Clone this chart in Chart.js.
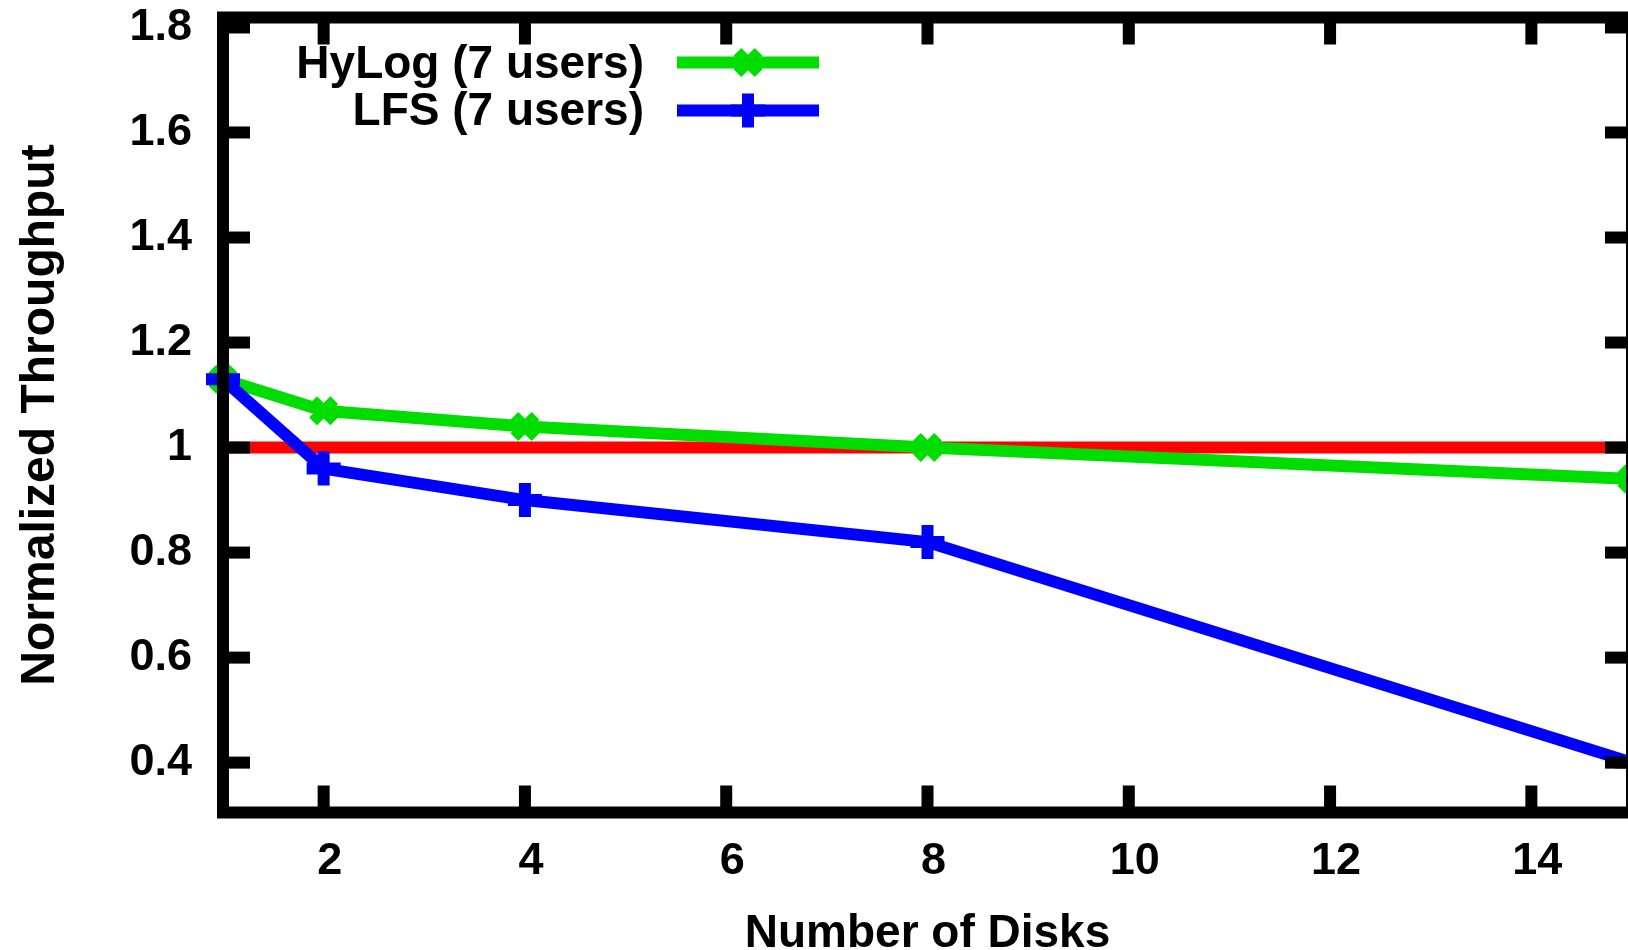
<!DOCTYPE html>
<html>
<head>
<meta charset="utf-8">
<script src="https://cdn.jsdelivr.net/npm/chart.js@4/dist/chart.umd.min.js"></script>
<style>
  html, body { margin: 0; padding: 0; background: #fff; overflow: hidden; }
  #wrap { width: 1660px; height: 950px; }
</style>
</head>
<body>
<div id="wrap"><canvas id="c" width="1660" height="950"></canvas></div>
<script>
// ---- data ----
const diskCounts = [1, 2, 4, 8, 15];
const hylogValues = [1.13, 1.07, 1.04, 1.0, 0.94];
const lfsValues = [1.13, 0.96, 0.90, 0.82, 0.40];
const baselineX = [1, 15];
const baselineValues = [1, 1];
const xTickValues = [2, 4, 6, 8, 10, 12, 14];
const yTickValues = [0.4, 0.6, 0.8, 1.0, 1.2, 1.4, 1.6, 1.8];
const seriesLabels = ['HyLog (7 users)', 'LFS (7 users)'];
const xTitle = 'Number of Disks';
const yTitle = 'Normalized Throughput';

const FONT = "'Liberation Sans', Arial, Helvetica, sans-serif";
const GREEN = 'rgb(0,221,0)';
const BLUE = 'rgb(0,0,255)';
const RED = 'rgb(255,0,0)';

function pts(xs, ys) { return xs.map((x, i) => ({ x: x, y: ys[i] })); }

function drawMarker(ctx, style, r, bw, color, x, y) {
  ctx.save();
  ctx.strokeStyle = color;
  ctx.lineWidth = bw;
  ctx.lineCap = 'butt';
  ctx.beginPath();
  if (style === 'cross') {
    ctx.moveTo(x, y - r); ctx.lineTo(x, y + r);
    ctx.moveTo(x - r, y); ctx.lineTo(x + r, y);
  } else {
    const o = r * Math.SQRT1_2;
    ctx.moveTo(x - o, y - o); ctx.lineTo(x + o, y + o);
    ctx.moveTo(x - o, y + o); ctx.lineTo(x + o, y - o);
  }
  ctx.stroke();
  ctx.restore();
}

const framePlugin = {
  id: 'frame',
  afterDatasetsDraw(chart) {
    const ctx = chart.ctx;
    const a = chart.chartArea;
    const xs = chart.scales.x, ys = chart.scales.y;
    ctx.save();
    ctx.fillStyle = '#000';
    const tl = 27, tw = 12;
    yTickValues.forEach(v => {
      const py = ys.getPixelForValue(v);
      ctx.fillRect(a.left, py - tw / 2, tl, tw);
      ctx.fillRect(a.right - tl, py - tw / 2, tl, tw);
    });
    xTickValues.forEach(v => {
      const px = xs.getPixelForValue(v);
      ctx.fillRect(px - tw / 2, a.bottom - tl, tw, tl);
      ctx.fillRect(px - tw / 2, a.top, tw, tl);
    });
    ctx.strokeStyle = '#000';
    ctx.lineWidth = 12;
    ctx.lineJoin = 'miter';
    ctx.strokeRect(a.left, a.top, a.right - a.left, a.bottom - a.top);
    ctx.restore();
  },
  afterDraw(chart) {
    const ctx = chart.ctx;
    const rows = [
      { ds: chart.data.datasets[0], y: 62.5, base: 78 },
      { ds: chart.data.datasets[1], y: 110.5, base: 124.5 }
    ];
    ctx.save();
    rows.forEach(r => {
      ctx.font = 'bold 46px ' + FONT;
      ctx.fillStyle = '#000';
      ctx.textAlign = 'right';
      ctx.textBaseline = 'alphabetic';
      ctx.fillText(r.ds.label, 644, r.base);
      ctx.strokeStyle = r.ds.borderColor;
      ctx.lineWidth = r.ds.borderWidth;
      ctx.lineCap = 'butt';
      ctx.beginPath();
      ctx.moveTo(677, r.y);
      ctx.lineTo(819, r.y);
      ctx.stroke();
      drawMarker(ctx, r.ds.pointStyle, r.ds.pointRadius, r.ds.pointBorderWidth, r.ds.borderColor, 748, r.y);
    });
    ctx.restore();
  }
};

new Chart(document.getElementById('c'), {
  type: 'scatter',
  data: {
    datasets: [
      {
        label: seriesLabels[0],
        data: pts(diskCounts, hylogValues),
        showLine: true,
        borderColor: GREEN,
        backgroundColor: GREEN,
        borderWidth: 12,
        pointStyle: 'crossRot',
        pointRadius: 15,
        pointBorderWidth: 11,
        pointBorderColor: GREEN,
        pointBackgroundColor: GREEN,
        pointHoverRadius: 15,
        clip: false,
        order: 2
      },
      {
        label: seriesLabels[1],
        data: pts(diskCounts, lfsValues),
        showLine: true,
        borderColor: BLUE,
        backgroundColor: BLUE,
        borderWidth: 12,
        pointStyle: 'cross',
        pointRadius: 17,
        pointBorderWidth: 12,
        pointBorderColor: BLUE,
        pointBackgroundColor: BLUE,
        pointHoverRadius: 17,
        clip: false,
        order: 1
      },
      {
        label: 'baseline',
        data: pts(baselineX, baselineValues),
        showLine: true,
        borderColor: RED,
        borderWidth: 12,
        pointRadius: 0,
        pointHoverRadius: 0,
        clip: false,
        order: 3
      }
    ]
  },
  options: {
    responsive: false,
    animation: false,
    devicePixelRatio: 1,
    layout: { autoPadding: false, padding: { left: 0, top: 17.5, right: 28, bottom: 0 } },
    plugins: {
      legend: { display: false },
      tooltip: { enabled: false }
    },
    elements: { line: { tension: 0, borderJoinStyle: 'miter' } },
    scales: {
      x: {
        type: 'linear',
        min: 1,
        max: 15,
        afterBuildTicks: s => { s.ticks = xTickValues.map(v => ({ value: v })); },
        afterFit: s => { s.height = 137.5; s.paddingLeft = 0; s.paddingRight = 0; },
        grid: { display: false, drawTicks: false },
        border: { display: false },
        ticks: {
          padding: 22,
          labelOffset: 6,
          color: '#000',
          font: { family: FONT, size: 45, weight: 'bold', lineHeight: 1.2 },
          callback: v => String(v),
          maxRotation: 0,
          autoSkip: false
        },
        title: {
          display: true,
          text: xTitle,
          color: '#000',
          font: { family: FONT, size: 46, weight: 'bold', lineHeight: 0.7 },
          padding: { top: 0, bottom: 0 }
        }
      },
      y: {
        type: 'linear',
        min: 0.305,
        max: 1.819,
        afterBuildTicks: s => { s.ticks = yTickValues.map(v => ({ value: v })); },
        afterFit: s => { s.width = 223; s.paddingTop = 0; s.paddingBottom = 0; },
        grid: { display: false, drawTicks: false },
        border: { display: false },
        ticks: {
          padding: 31,
          color: '#000',
          font: { family: FONT, size: 45, weight: 'bold' },
          callback: v => String(Math.round(v * 10) / 10),
          autoSkip: false
        },
        title: {
          display: true,
          text: yTitle,
          color: '#000',
          font: { family: FONT, size: 48, weight: 'bold', lineHeight: 1 },
          padding: { top: 17, bottom: 0 }
        }
      }
    }
  },
  plugins: [framePlugin]
});
</script>
</body>
</html>
